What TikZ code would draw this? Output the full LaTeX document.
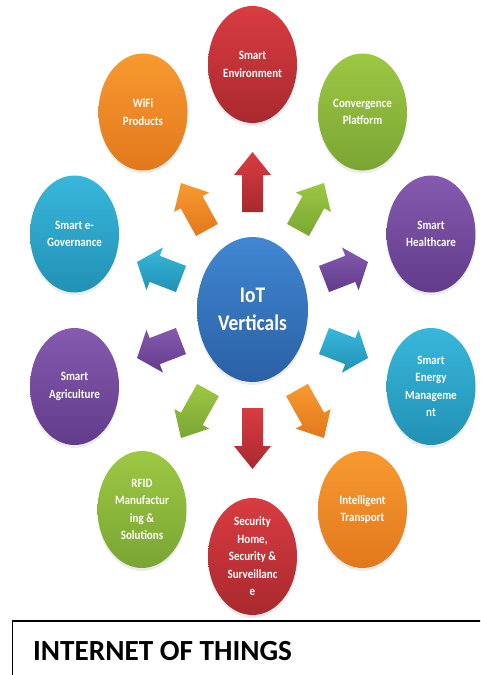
\documentclass[tikz,border=0pt]{standalone}
\usepackage{fontspec}
\setmainfont{Carlito}
% slightly condensed face for the bubble labels
\newfontfamily\labelfont[FakeStretch=0.87]{Carlito}
\usetikzlibrary{calc,shapes.geometric,shadows}

% top / bottom tones of each colour family
\definecolor{cRedT}{HTML}{D83C41}
\definecolor{cRedB}{HTML}{A9292E}
\definecolor{cOrangeT}{HTML}{F89A30}
\definecolor{cOrangeB}{HTML}{E2781C}
\definecolor{cGreenT}{HTML}{9DC843}
\definecolor{cGreenB}{HTML}{7AA534}
\definecolor{cCyanT}{HTML}{38B7DB}
\definecolor{cCyanB}{HTML}{2191B4}
\definecolor{cPurpleT}{HTML}{855AAF}
\definecolor{cPurpleB}{HTML}{623B8B}
\definecolor{cBlueT}{HTML}{4087D1}
\definecolor{cBlueB}{HTML}{2A60A6}

\begin{document}
\begin{tikzpicture}[x=1pt,y=-1pt,
  bubble/.style={ellipse, minimum width=89pt, minimum height=117pt, inner sep=0pt,
    align=center, text=white, top color=#1T, bottom color=#1B,
    font=\labelfont\bfseries\fontsize{12.65}{17.5}\selectfont,
    drop shadow={opacity=0.15, shadow xshift=0pt, shadow yshift=-3pt}},
  hub/.style={ellipse, minimum width=111pt, minimum height=145pt, inner sep=0pt,
    align=center, text=white, top color=cBlueT, bottom color=cBlueB,
    font=\labelfont\bfseries\fontsize{22.3}{28}\selectfont,
    drop shadow={opacity=0.15, shadow xshift=0pt, shadow yshift=-3pt}},
  % block arrow: colour, shaft half width, head half width, head length
  blockarrow/.style n args={4}{top color=#1T, bottom color=#1B, draw=none,
    to path={
      ($(\tikztostart)!#2pt!90:(\tikztotarget)$)
      -- ($(\tikztotarget)!#4pt!(\tikztostart)!#2pt!90:(\tikztotarget)$)
      -- ($(\tikztotarget)!#4pt!(\tikztostart)!#3pt!90:(\tikztotarget)$)
      -- (\tikztotarget)
      -- ($(\tikztotarget)!#4pt!(\tikztostart)!#3pt!-90:(\tikztotarget)$)
      -- ($(\tikztotarget)!#4pt!(\tikztostart)!#2pt!-90:(\tikztotarget)$)
      -- ($(\tikztostart)!#2pt!-90:(\tikztotarget)$)
      -- cycle}},
  frame/.style={draw=black, line width=1.5pt}
]
\useasboundingbox (0,0) rectangle (480,675);
\clip (0,0) rectangle (480,675);

% central hub
\node[hub] (iot) at (252.5,309.5) {IoT\\Verticals};

% surrounding verticals
\node[bubble=cRed]    (env)   at (252.5,64.5)  {Smart\\Environment};
\node[bubble=cOrange] (wifi)  at (143,112)     {WiFi\\Products};
\node[bubble=cGreen]  (conv)  at (362.5,112)   {Convergence\\Platform};
\node[bubble=cCyan]   (gov)   at (74.5,234)    {Smart e-\\Governance};
\node[bubble=cPurple] (health) at (431,234)    {Smart\\Healthcare};
\node[bubble=cPurple] (agri)  at (74.5,386.5)  {Smart\\Agriculture};
\node[bubble=cCyan]   (energy) at (431,386.5)  {Smart\\Energy\\Manageme\\nt};
\node[bubble=cGreen]  (rfid)  at (142,509.5)   {RFID\\Manufactur\\ing \&\\Solutions};
\node[bubble=cRed]    (sec)   at (252.5,556.5) {Security\\Home,\\Security \&\\Surveillanc\\e};
\node[bubble=cOrange] (trans) at (362.5,509.5) {Intelligent\\Transport};

% arrow end points
\coordinate (upS) at (252.5,212);  \coordinate (upT) at (252.5,152);
\coordinate (ulS) at (207,230);    \coordinate (ulT) at (181,183);
\coordinate (urS) at (298,230);    \coordinate (urT) at (324,183);
\coordinate (lS)  at (181,279);    \coordinate (lT)  at (137,262);
\coordinate (rS)  at (324,279);    \coordinate (rT)  at (368,262);
\coordinate (llS) at (181,341);    \coordinate (llT) at (137,358);
\coordinate (lrS) at (324,341);    \coordinate (lrT) at (368,358);
\coordinate (dlS) at (208,390);    \coordinate (dlT) at (181,438);
\coordinate (dS)  at (252.5,408);  \coordinate (dT)  at (252.5,469);
\coordinate (drS) at (297,390);    \coordinate (drT) at (324,438);

\path[blockarrow={cRed}{10.5}{18.5}{23}]    (upS) to (upT);
\path[blockarrow={cOrange}{12.5}{20}{22}]   (ulS) to (ulT);
\path[blockarrow={cGreen}{12.5}{20}{22}]    (urS) to (urT);
\path[blockarrow={cCyan}{14}{23}{19}]       (lS)  to (lT);
\path[blockarrow={cPurple}{14}{23}{19}]     (rS)  to (rT);
\path[blockarrow={cPurple}{14}{23}{19}]     (llS) to (llT);
\path[blockarrow={cCyan}{14}{23}{19}]       (lrS) to (lrT);
\path[blockarrow={cGreen}{12.5}{20}{22}]    (dlS) to (dlT);
\path[blockarrow={cRed}{10.5}{18.5}{23}]    (dS)  to (dT);
\path[blockarrow={cOrange}{12.5}{20}{22}]   (drS) to (drT);

% caption box
\draw[frame] (12.5,621) rectangle (500,700);
\node[anchor=base west, inner sep=0pt, font=\bfseries\fontsize{29.2}{34}\selectfont]
  (title) at (33,660) {INTERNET OF THINGS};
\end{tikzpicture}
\end{document}
